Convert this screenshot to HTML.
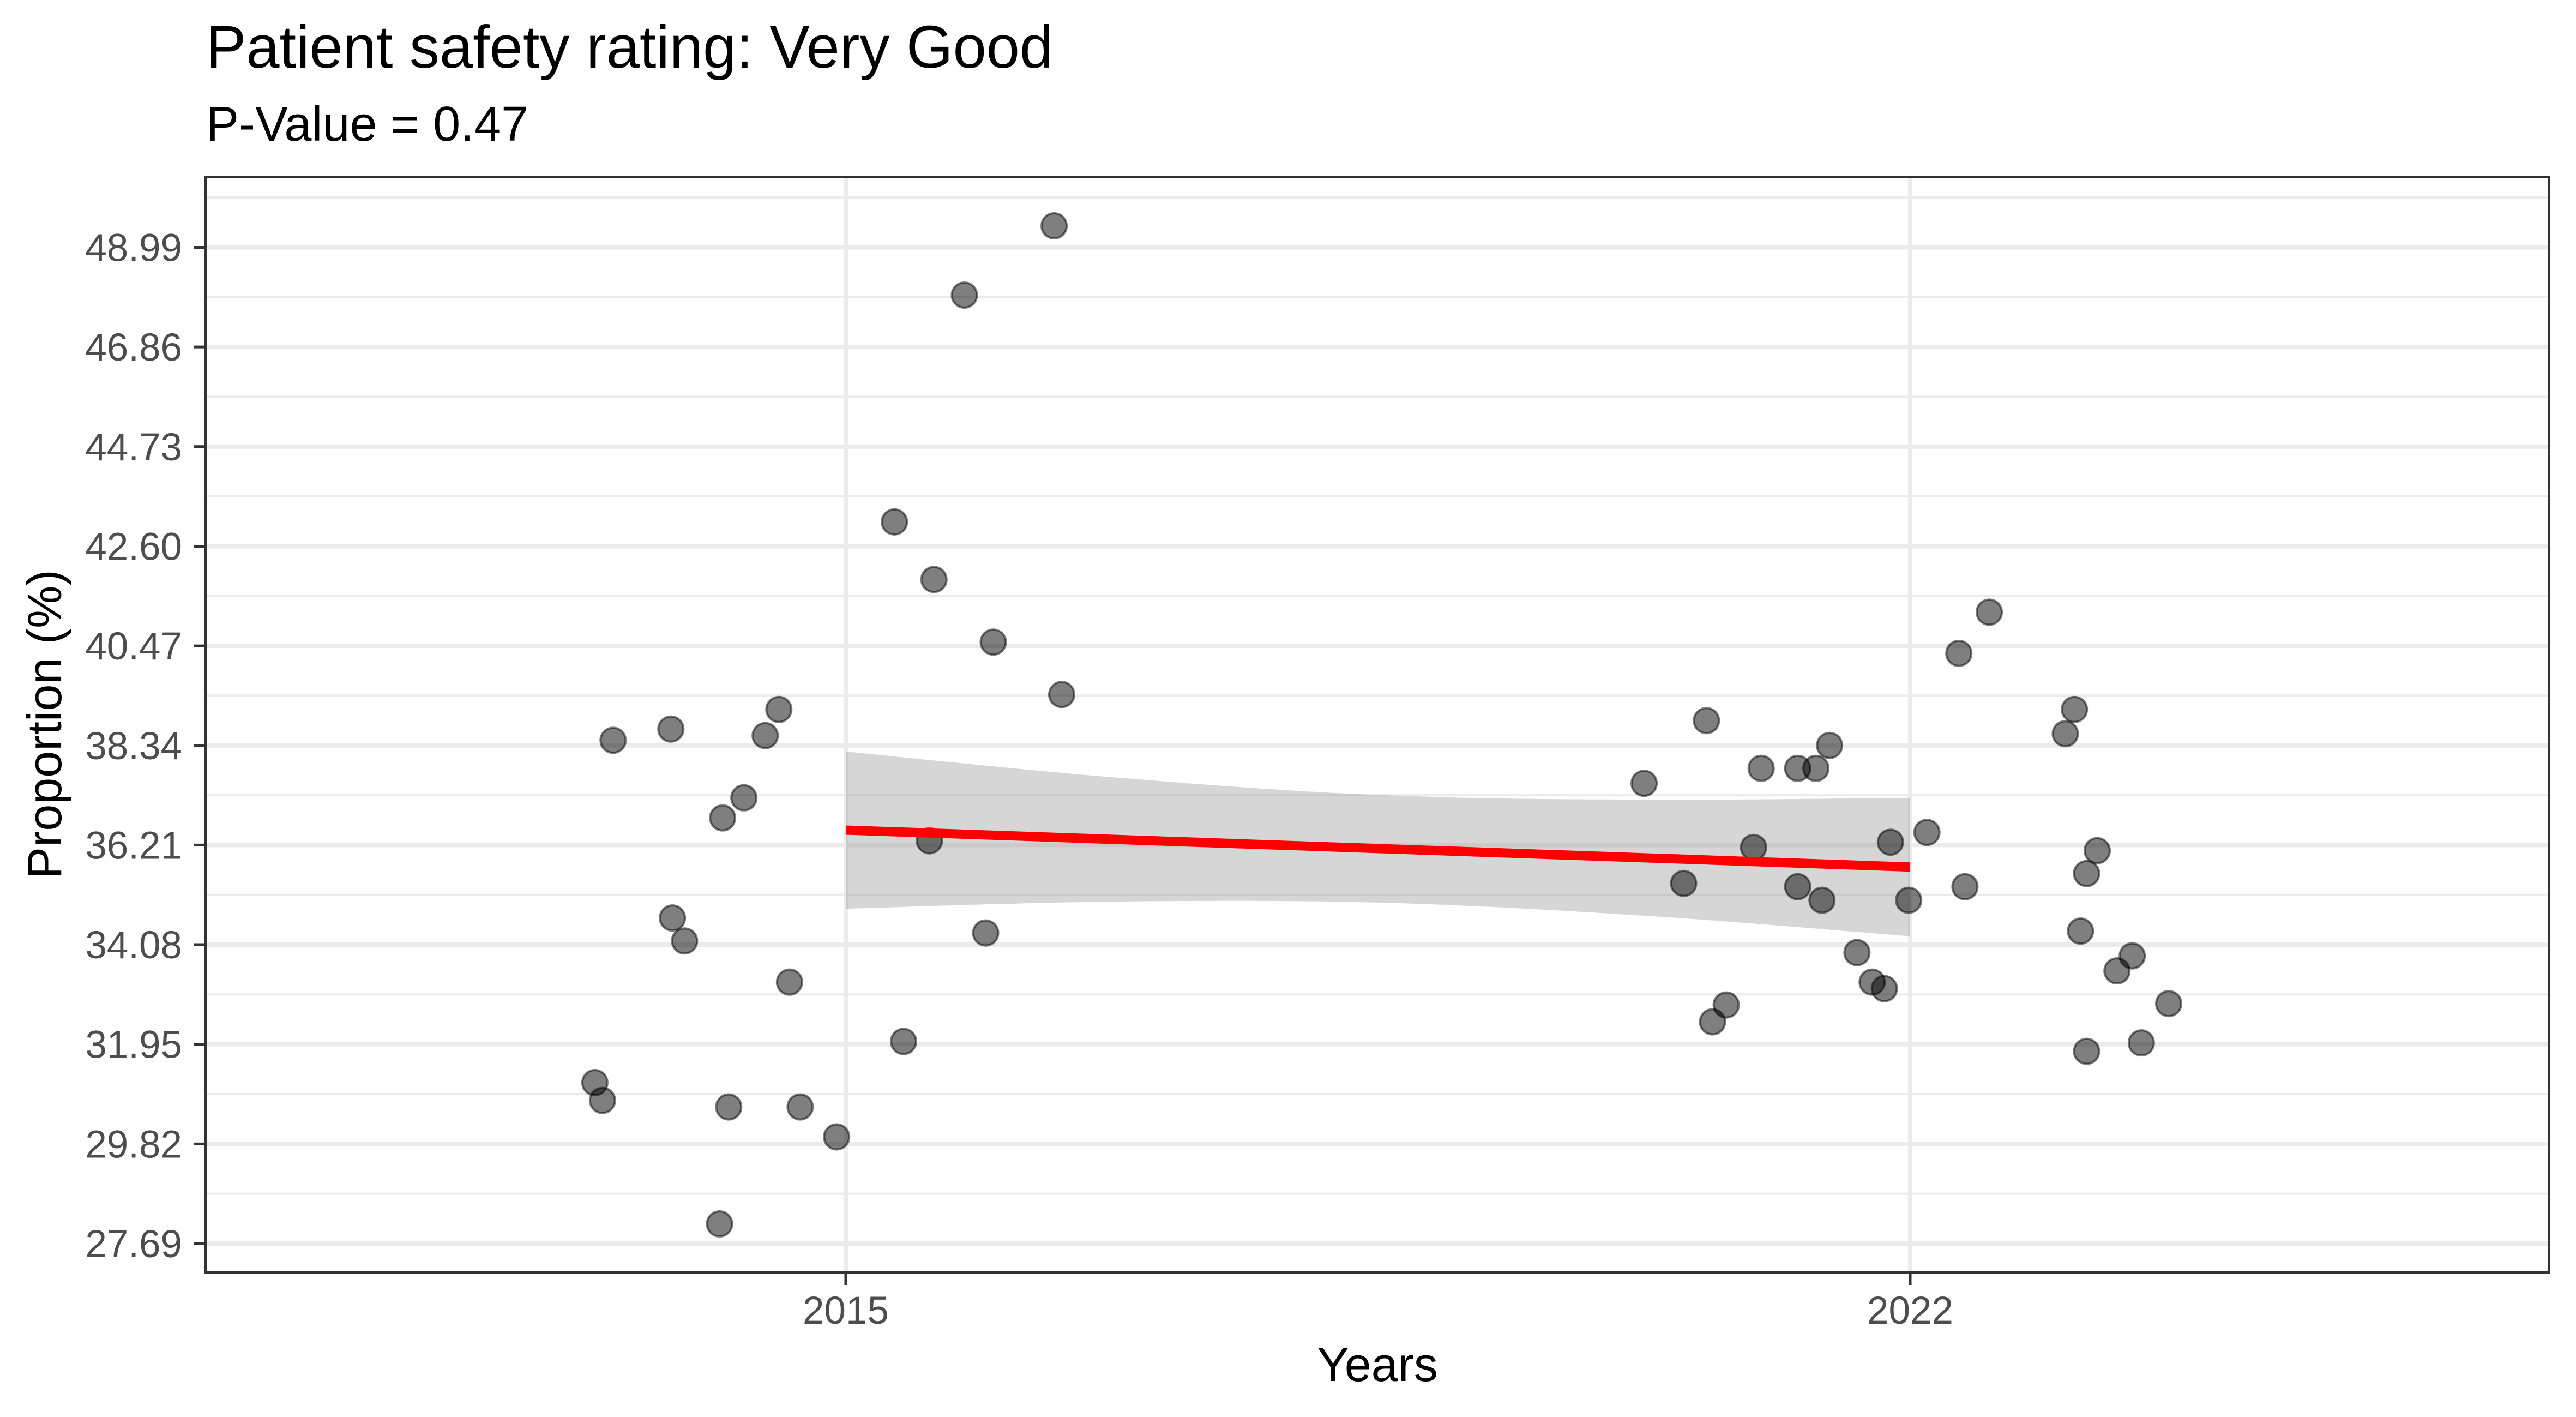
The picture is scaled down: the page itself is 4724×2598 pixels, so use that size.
<!DOCTYPE html>
<html><head><meta charset="utf-8"><style>
html,body{margin:0;padding:0;background:#fff}
svg{display:block}
text{font-family:"Liberation Sans",Arial,sans-serif}
</style></head><body>
<svg id="chart" width="4724" height="2598" viewBox="0 0 4724 2598" xmlns="http://www.w3.org/2000/svg">
<rect width="4724" height="2598" fill="#fff"/>
<text x="378" y="124" font-size="110" fill="#000">Patient safety rating: Very Good</text>
<text x="378" y="258" font-size="90" fill="#000">P-Value = 0.47</text>
<g id="grid"></g>
<g id="ribbon"></g>
<g id="pts"></g>
<g id="fit"></g>
<rect x="377" y="324" width="4298" height="2009" fill="none" stroke="#333" stroke-width="4"/>
<g id="axes"></g>
<text x="2526" y="2532" font-size="88" text-anchor="middle" fill="#000">Years</text>
<text transform="translate(112,1328) rotate(-90)" font-size="88" text-anchor="middle" fill="#000">Proportion (%)</text>
</svg>
<script>
const yTicks = [48.99,46.86,44.73,42.60,40.47,38.34,36.21,34.08,31.95,29.82,27.69];
const yTickLabels = ["48.99","46.86","44.73","42.60","40.47","38.34","36.21","34.08","31.95","29.82","27.69"];
const xTicks = [2015,2022];
const xTickLabels = ["2015","2022"];
const pointYears = [2013.35,2013.40,2013.47,2013.85,2013.86,2013.94,2014.17,2014.19,2014.23,2014.33,2014.47,2014.56,2014.63,2014.70,2014.94,2015.32,2015.38,2015.55,2015.58,2015.78,2015.92,2015.97,2016.37,2016.42,2020.25,2020.51,2020.66,2020.70,2020.79,2020.97,2021.02,2021.26,2021.26,2021.38,2021.42,2021.47,2021.65,2021.75,2021.83,2021.87,2021.99,2022.11,2022.32,2022.36,2022.52,2023.02,2023.08,2023.12,2023.16,2023.16,2023.23,2023.36,2023.46,2023.52,2023.70];
const pointValues = [31.13,30.75,38.45,38.69,34.65,34.16,28.11,36.79,30.61,37.22,38.55,39.11,33.28,30.61,29.97,43.12,32.01,36.30,41.89,47.97,34.33,40.55,49.45,39.43,37.53,35.39,38.87,32.43,32.79,36.16,37.85,37.85,35.32,37.85,35.03,38.34,33.91,33.28,33.14,36.27,35.03,36.48,40.31,35.32,41.19,38.59,39.11,34.37,35.60,31.80,36.09,33.52,33.84,31.98,32.82];
const fitYears = [2015,2022];
const fitValues = [36.53,35.74];
const bandYears = [2015,2016.75,2018.5,2020.25,2022];
const bandUpper = [38.21,37.66,37.28,37.18,37.22];
const bandLower = [34.85,35.00,34.98,34.70,34.26];

const NS="http://www.w3.org/2000/svg";
const X0=377,X1=4675,Y0=324,Y1=2333;
const xs=v=>1551+(v-2015)*(3503-1551)/7;
const ys=v=>453.5+(48.99-v)*(2280-453.5)/(48.99-27.69);
function mk(tag,attrs,parent){const e=document.createElementNS(NS,tag);for(const k in attrs)e.setAttribute(k,attrs[k]);parent.appendChild(e);return e;}
const grid=document.getElementById('grid');
for(let i=0;i<=yTicks.length;i++){
  const v=(i===0)?yTicks[0]+(yTicks[0]-yTicks[1])/2:yTicks[i-1]-(yTicks[0]-yTicks[1])/2;
  const y=ys(v); if(y<Y0||y>Y1) continue;
  const l=mk('line',{x1:X0,x2:X1,y1:y,y2:y,stroke:'#ebebeb','stroke-width':4},grid);
  
  
}
yTicks.forEach(v=>{const y=ys(v);
  const l=mk('line',{x1:X0,x2:X1,y1:y,y2:y,stroke:'#ebebeb','stroke-width':8},grid);
  
  
});
xTicks.forEach(v=>{const x=xs(v);
  const l=mk('line',{x1:x,x2:x,y1:Y0,y2:Y1,stroke:'#ebebeb','stroke-width':8},grid);
  
  
});
function smooth(ptsArr){let d='';for(let i=0;i<ptsArr.length-1;i++){const p0=ptsArr[Math.max(i-1,0)],p1=ptsArr[i],p2=ptsArr[i+1],p3=ptsArr[Math.min(i+2,ptsArr.length-1)];
 const c1=[p1[0]+(p2[0]-p0[0])/6,p1[1]+(p2[1]-p0[1])/6],c2=[p2[0]-(p3[0]-p1[0])/6,p2[1]-(p3[1]-p1[1])/6];
 d+=` C${c1[0]},${c1[1]} ${c2[0]},${c2[1]} ${p2[0]},${p2[1]}`;}return d;}
const up=bandYears.map((t,i)=>[xs(t),ys(bandUpper[i])]);
const lo=bandYears.map((t,i)=>[xs(t),ys(bandLower[i])]).reverse();
const rib=mk('path',{d:`M${up[0][0]},${up[0][1]}`+smooth(up)+` L${lo[0][0]},${lo[0][1]}`+smooth(lo)+' Z',fill:'#999','fill-opacity':0.4},document.getElementById('ribbon'));


const pg=document.getElementById('pts');
pointYears.forEach((t,i)=>{
  const c=mk('circle',{cx:xs(t),cy:ys(pointValues[i]),r:23,fill:'rgba(0,0,0,0.5)',stroke:'rgba(0,0,0,0.5)','stroke-width':4},pg);
  
  
});
const fl=mk('line',{x1:xs(fitYears[0]),y1:ys(fitValues[0]),x2:xs(fitYears[1]),y2:ys(fitValues[1]),stroke:'#ff0000','stroke-width':17},document.getElementById('fit'));


const ax=document.getElementById('axes');
yTicks.forEach((v,i)=>{const y=ys(v);
  const t=mk('line',{x1:355,x2:377,y1:y,y2:y,stroke:'#333','stroke-width':5},ax);
  
  
  const tx=mk('text',{x:334,y:y+25,'font-size':71,'text-anchor':'end',fill:'#4d4d4d'},ax);
  tx.textContent=yTickLabels[i];
  
  
});
xTicks.forEach((v,i)=>{const x=xs(v);
  const t=mk('line',{x1:x,x2:x,y1:Y1,y2:2356,stroke:'#333','stroke-width':5},ax);
  
  
  const tx=mk('text',{x:x,y:2427,'font-size':71,'text-anchor':'middle',fill:'#4d4d4d'},ax);
  tx.textContent=xTickLabels[i];
  
  
});
</script>
</body></html>
